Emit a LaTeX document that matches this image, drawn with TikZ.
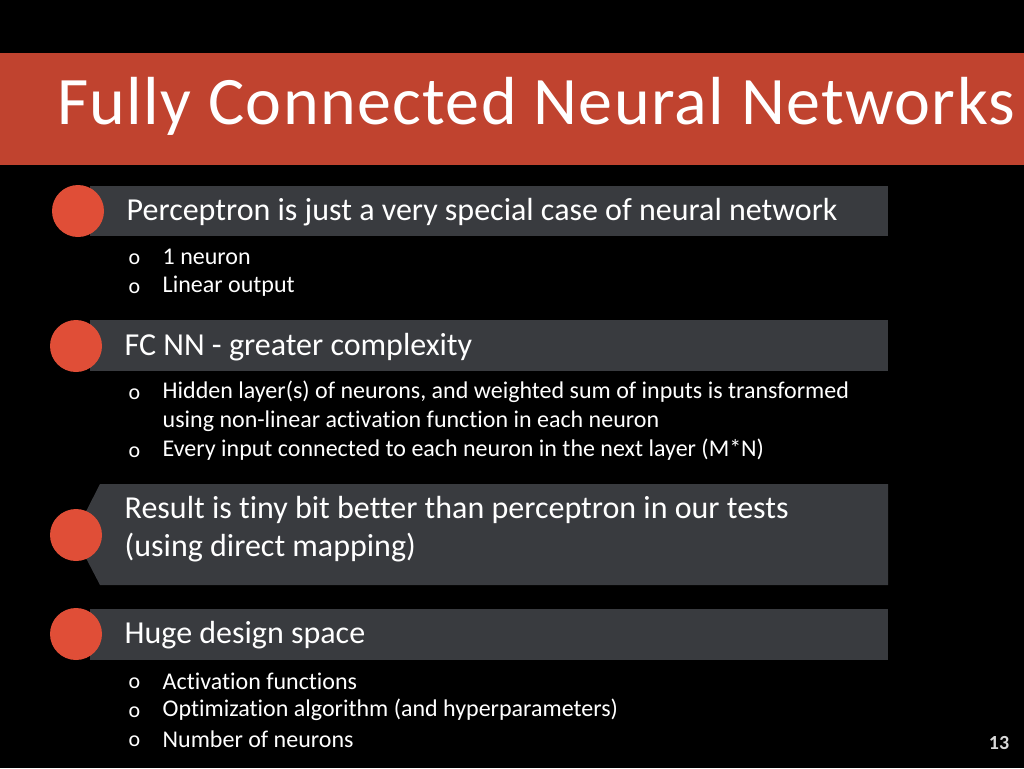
\documentclass[tikz,border=0pt]{standalone}
\usepackage{fontspec}
\setmainfont[Ligatures=NoCommon]{Carlito}
\definecolor{slidered}{HTML}{C0432F}
\definecolor{dotred}{HTML}{E04E37}
\definecolor{bargray}{HTML}{393B3F}
\tikzset{
  heading/.style={anchor=west, text=white, font=\fontsize{24}{29}\selectfont, align=left},
  item/.style={anchor=west, text=white, font=\fontsize{18}{22}\selectfont, align=left},
  bul/.style={anchor=west, text=white, font=\fontsize{16.5}{22}\selectfont, text height=8pt, text depth=0pt},
  dot/.style={circle, fill=dotred, minimum size=39pt, inner sep=0pt}
}
\begin{document}
\begin{tikzpicture}[x=0.75pt,y=-0.75pt]
\fill[black] (0,0) rectangle (1024,768);
\useasboundingbox (0,0) rectangle (1024,768);
\fill[slidered] (0,53) rectangle (1024,165);
\node[anchor=west, text=white, font=\fontsize{51}{60}\selectfont, inner sep=0pt] (title) at (57,106) {\addfontfeatures{LetterSpace=2}Fully Connected Neural Networks};

% perceptron
\fill[bargray] (90,186) rectangle (888,236);
\node[dot] (d1) at (78,211) {};
\node[heading] (h1) at (122,212) {Perceptron is just a very special case of neural network};
\node[bul] (b11) at (124,259) {o};
\node[item] (t11) at (158,257) {1 neuron};
\node[bul] (b12) at (124,288) {o};
\node[item] (t12) at (158,286) {Linear output};

% fc nn
\fill[bargray] (90,320) rectangle (888,371);
\node[dot] (d2) at (76,346) {};
\node[heading] (h2) at (120,347) {FC NN - greater complexity};
\node[bul] (b21) at (124,394) {o};
\node[item] (t21) at (158,406) {Hidden layer(s) of neurons, and weighted sum of inputs is transformed\\using non-linear activation function in each neuron};
\node[bul] (b22) at (124,452) {o};
\node[item] (t22) at (158,450) {Every input connected to each neuron in the next layer (M*N)};

% result
\fill[bargray] (100,484) -- (888,484) -- (888,585) -- (100,585) -- (74,535) -- cycle;
\node[dot] (d3) at (76,535) {};
\node[heading] (h3) at (120,529) {Result is tiny bit better than perceptron in our tests\\(using direct mapping)};

% design space
\fill[bargray] (90,609) rectangle (888,660);
\node[dot] (d4) at (76,634) {};
\node[heading] (h4) at (120,635) {Huge design space};
\node[bul] (b41) at (124,683) {o};
\node[item] (t41) at (158,681) {Activation functions};
\node[bul] (b42) at (124,712) {o};
\node[item] (t42) at (158,710) {Optimization algorithm (and hyperparameters)};
\node[bul] (b43) at (124,741) {o};
\node[item] (t43) at (158,739) {Number of neurons};

\node[text=white!85!black, font=\bfseries\fontsize{15}{18}\selectfont] (pg) at (999,743) {13};
\end{tikzpicture}
\end{document}
